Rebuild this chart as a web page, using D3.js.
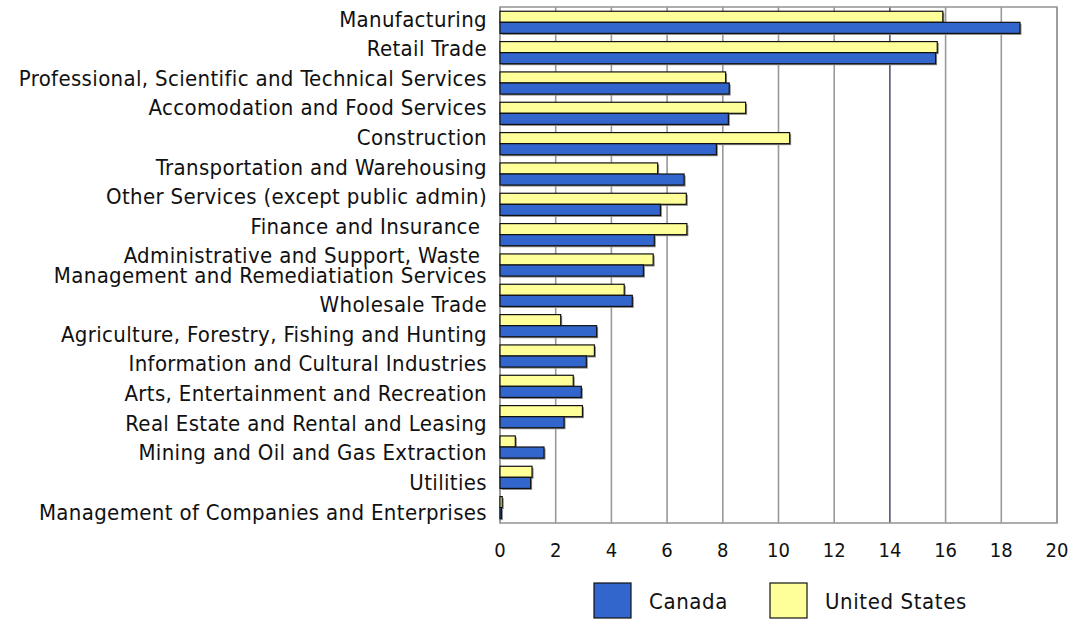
<!DOCTYPE html>
<html>
<head>
<meta charset="utf-8">
<script src="https://cdn.jsdelivr.net/npm/d3@7"></script>
<style>
  body { margin: 0; background: #fff; }
  text { font-family: "DejaVu Sans Condensed", "DejaVu Sans", sans-serif; fill: #111; }
</style>
</head>
<body>
<div id="chart"></div>
<script>
const categories = [
  "Manufacturing",
  "Retail Trade",
  "Professional, Scientific and Technical Services",
  "Accomodation and Food Services",
  "Construction",
  "Transportation and Warehousing",
  "Other Services (except public admin)",
  "Finance and Insurance ",
  "Administrative and Support, Waste \nManagement and Remediatiation Services",
  "Wholesale Trade",
  "Agriculture, Forestry, Fishing and Hunting",
  "Information and Cultural Industries",
  "Arts, Entertainment and Recreation",
  "Real Estate and Rental and Leasing",
  "Mining and Oil and Gas Extraction",
  "Utilities",
  "Management of Companies and Enterprises"
];
const canada = [18.67, 15.64, 8.23, 8.2, 7.77, 6.61, 5.76, 5.54, 5.15, 4.75, 3.47, 3.1, 2.92, 2.3, 1.58, 1.1, 0.05];
const unitedStates = [15.9, 15.7, 8.1, 8.82, 10.4, 5.66, 6.69, 6.71, 5.5, 4.46, 2.18, 3.39, 2.63, 2.96, 0.55, 1.15, 0.08];
const xTicks = [0, 2, 4, 6, 8, 10, 12, 14, 16, 18, 20];
const seriesNames = ["United States", "Canada"];
const legendNames = ["Canada", "United States"];
const colors = { "Canada": "#3366cc", "United States": "#ffff99" };

const W = 1071, H = 620;
const margin = { top: 7, right: 14, bottom: 97, left: 500 };
const width = W - margin.left - margin.right;
const height = H - margin.top - margin.bottom;

const svg = d3.select('#chart').append('svg')
  .attr('width', W).attr('height', H);
const g = svg.append('g').attr('transform', `translate(${margin.left},${margin.top})`);

const x = d3.scaleLinear().domain([0, 20]).range([0, width]);
const y = d3.scaleBand().domain(categories).range([0, height]).paddingInner(0.27).paddingOuter(0.14);
const ySub = d3.scaleBand().domain(seriesNames).range([0, y.bandwidth()]);

// gridlines
g.selectAll('.grid').data(xTicks).enter().append('line')
  .attr('x1', d => x(d)).attr('x2', d => x(d))
  .attr('y1', 0).attr('y2', height)
  .attr('stroke', d => d === 14 ? '#1a2040' : '#999')
  .attr('stroke-width', d => d === 14 ? 1.2 : 1.6);

g.append('rect')
  .attr('x', 0).attr('y', 0).attr('width', width).attr('height', height)
  .attr('fill', 'none').attr('stroke', '#999').attr('stroke-width', 1.6);

const rows = categories.map((c, i) => [
  { cat: c, s: "United States", v: unitedStates[i] },
  { cat: c, s: "Canada", v: canada[i] }
]).flat();

// shadows
g.selectAll('.shadow').data(rows).enter().append('rect')
  .attr('x', 1.5)
  .attr('y', d => y(d.cat) + ySub(d.s) + 1.5)
  .attr('width', d => x(d.v))
  .attr('height', ySub.bandwidth())
  .attr('fill', '#888');

g.selectAll('.bar').data(rows).enter().append('rect')
  .attr('x', 0)
  .attr('y', d => y(d.cat) + ySub(d.s))
  .attr('width', d => x(d.v))
  .attr('height', ySub.bandwidth())
  .attr('fill', d => colors[d.s])
  .attr('stroke', '#111')
  .attr('stroke-width', 1.2);

// y labels: stacked like a text column, two-line label takes more room
const lineH = 20.5;
const slot = d => 29.65 + (d.split('\n').length - 1) * 18.7;
let acc = 4 - margin.top;
const labelY = {};
categories.forEach(c => { labelY[c] = acc + slot(c) / 2; acc += slot(c); });

const lab = g.selectAll('.ylab').data(categories).enter().append('text')
  .attr('text-anchor', 'end')
  .attr('font-size', 22)
  .attr('letter-spacing', 0.35)
  .attr('transform', d => `translate(-13,${labelY[d]})`);
lab.each(function(d) {
  const lines = d.split('\n');
  const t = d3.select(this);
  lines.forEach((l, i) => {
    t.append('tspan').attr('x', 0)
      .attr('y', (i - (lines.length - 1) / 2) * lineH)
      .attr('dy', '0.35em')
      .attr('xml:space', 'preserve')
      .text(l);
  });
});

// x axis labels
g.selectAll('.xlab').data(xTicks).enter().append('text')
  .attr('x', d => x(d)).attr('y', height + 27).attr('dy', '0.35em')
  .attr('text-anchor', 'middle')
  .attr('font-size', 20)
  .text(d => d);

// legend
const legend = svg.append('g').attr('transform', 'translate(594,583)');
const lg = legend.selectAll('g').data(legendNames).enter().append('g')
  .attr('transform', (d, i) => `translate(${i * 176},0)`);
lg.append('rect').attr('width', 37).attr('height', 35)
  .attr('fill', d => colors[d]).attr('stroke', '#111').attr('stroke-width', 1.2);
lg.append('text').attr('x', 55).attr('y', 18).attr('dy', '0.35em')
  .attr('font-size', 22).attr('letter-spacing', 0.6).text(d => d);
</script>
</body>
</html>
